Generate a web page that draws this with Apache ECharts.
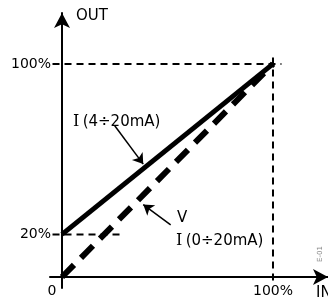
<!DOCTYPE html>
<html>
<head>
<meta charset="utf-8">
<script src="https://cdn.jsdelivr.net/npm/echarts@6/dist/echarts.min.js"></script>
<style>
  html, body { margin: 0; padding: 0; background: #fff; }
  #chart { width: 328px; height: 301px; }
</style>
</head>
<body>
<div id="chart"></div>
<script>
// characteristic lines, input % -> output %
var inputPct = [0, 100];
var out4to20 = [20, 100];   // I (4÷20mA)
var out0to20 = [0, 100];    // V, I (0÷20mA)

// tick labels
var xTicks = [0, 100];
var xTickLabels = ['0', '100%'];
var yTicks = [20, 100];
var yTickLabels = ['20%', '100%'];

// dashed guide lines
var guide100H = [[-4.5, 100], [104, 100]];
var guide100V = [[100, 103], [100, -3]];
var guide20H = [[-4.5, 20], [29, 20]];

var font = 'DejaVu Sans';

var chart = echarts.init(document.getElementById('chart'));

function pairs(xs, ys) {
    return xs.map(function(x, i) { return [x, ys[i]]; });
}

var guideStyle = { color: '#000', width: 2, type: [7, 5] };

// labels sit at the grid edge, not on the zero line, hence small/negative margins
var option = {
    animation: false,
    grid: { left: 50, right: 0, top: 13, bottom: 13, outerBoundsMode: 'none', containLabel: false },
    xAxis: {
        type: 'value',
        min: -5.69,
        max: 126.07,
        splitLine: { show: false },
        axisLine: {
            onZero: true,
            symbol: ['none', 'arrow'],
            symbolSize: [12, 15],
            lineStyle: { color: '#000', width: 2 }
        },
        axisTick: { show: false },
        axisLabel: {
            customValues: xTicks,
            margin: -4,
            color: '#000',
            fontFamily: font,
            fontSize: 14,
            formatter: function(v) {
                var s = xTickLabels[xTicks.indexOf(v)];
                return v === 0 ? '{o|' + s + '}' : s;
            },
            rich: { o: { fontFamily: font, fontSize: 14, color: '#000', padding: [0, 20, 0, 0] } }
        }
    },
    yAxis: {
        type: 'value',
        min: -5.16,
        max: 123.9,
        splitLine: { show: false },
        axisLine: {
            onZero: true,
            symbol: ['none', 'arrow'],
            symbolSize: [12, 15],
            lineStyle: { color: '#000', width: 2 }
        },
        axisTick: { show: false },
        axisLabel: {
            customValues: yTicks,
            margin: -1,
            color: '#000',
            fontFamily: font,
            fontSize: 14,
            formatter: function(v) { return yTickLabels[yTicks.indexOf(v)]; }
        }
    },
    series: [
        { type: 'line', data: guide100H, symbol: 'none', lineStyle: guideStyle },
        { type: 'line', data: guide100V, symbol: 'none', lineStyle: guideStyle },
        { type: 'line', data: guide20H, symbol: 'none', lineStyle: guideStyle },
        {
            type: 'line',
            data: pairs(inputPct, out0to20),
            symbol: 'none',
            lineStyle: { color: '#000', width: 6, type: [17, 10] }
        },
        {
            type: 'line',
            data: pairs(inputPct, out4to20),
            symbol: 'none',
            lineStyle: { color: '#000', width: 5 },
            markLine: {
                silent: true,
                symbol: ['none', 'arrow'],
                symbolSize: 10,
                label: { show: false },
                lineStyle: { color: '#000', width: 1.5, type: 'solid' },
                data: [
                    [{ coord: [25, 71] }, { coord: [38.5, 53] }],
                    [{ coord: [51.5, 24.5] }, { coord: [38.5, 34] }]
                ]
            }
        }
    ],
    graphic: [
        { type: 'text', left: 76, top: 9, style: { text: 'OUT', font: '15px "DejaVu Sans"', fill: '#000' } },
        { type: 'text', left: 316, top: 286, style: { text: 'IN', font: '15px "DejaVu Sans"', fill: '#000' } },
        {
            type: 'text', left: 73, top: 114,
            style: {
                text: '{s|I} {n|(4÷20mA)}',
                rich: {
                    s: { fontFamily: 'DejaVu Serif', fontSize: 16, fill: '#000' },
                    n: { fontFamily: font, fontSize: 15, fill: '#000' }
                }
            }
        },
        { type: 'text', left: 177, top: 211, style: { text: 'V', font: '15px "DejaVu Sans"', fill: '#000' } },
        {
            type: 'text', left: 176, top: 233,
            style: {
                text: '{s|I} {n|(0÷20mA)}',
                rich: {
                    s: { fontFamily: 'DejaVu Serif', fontSize: 16, fill: '#000' },
                    n: { fontFamily: font, fontSize: 15, fill: '#000' }
                }
            }
        },
        {
            type: 'text', x: 317, y: 262, rotation: Math.PI / 2,
            style: { text: 'E-01', font: '7px "DejaVu Sans"', fill: '#888' }
        }
    ]
};

chart.setOption(option);
</script>
</body>
</html>
